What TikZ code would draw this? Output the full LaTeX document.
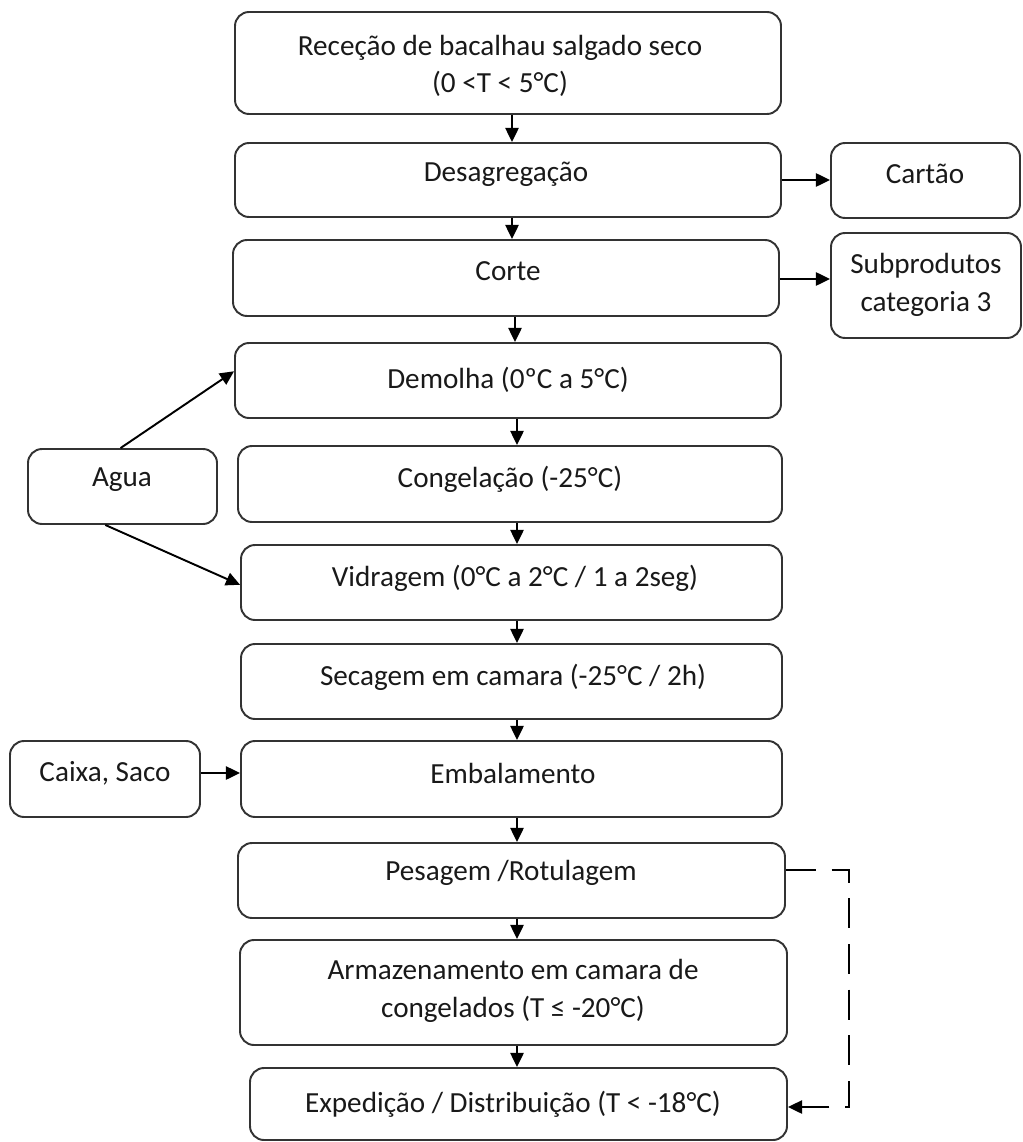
\documentclass[tikz,border=0pt]{standalone}
\usepackage{fontspec}
\setmainfont{Carlito}
\usetikzlibrary{fit,calc,arrows.meta}
\begin{document}
\begin{tikzpicture}[x=0.02cm,y=-0.02cm,
  box/.style={draw=black!80, line width=1.1pt, rounded corners=8pt, inner sep=0pt},
  txt/.style={font=\fontsize{16.6}{21.5}\selectfont, text=black!90, align=center, inner sep=0pt},
  arr/.style={draw=black, line width=1.1pt, -{Triangle[length=8pt,width=7.5pt]}},
  dsh/.style={dash pattern=on 17pt off 9pt}]
\useasboundingbox (0,0) rectangle (1023,1142);
% boxes
\node[box, fit={(235,12) (781,114)}] (r) {};
\node[box, fit={(235,143) (781,217)}] (d) {};
\node[box, fit={(831,143) (1020,218)}] (c) {};
\node[box, fit={(233,240) (779,316)}] (co) {};
\node[box, fit={(831,233) (1021,338)}] (s) {};
\node[box, fit={(235,343) (781,418)}] (dm) {};
\node[box, fit={(28,449) (217,524)}] (ag) {};
\node[box, fit={(238,446) (782,522)}] (cg) {};
\node[box, fit={(241,545) (782,620)}] (v) {};
\node[box, fit={(241,644) (782,719)}] (sc) {};
\node[box, fit={(10,741) (200,817)}] (cx) {};
\node[box, fit={(241,741) (782,817)}] (em) {};
\node[box, fit={(238,843) (785,918)}] (pe) {};
\node[box, fit={(240,940) (787,1045)}] (ar) {};
\node[box, fit={(250,1068) (787,1140)}] (ex) {};
% texts
\node[txt] (rt) at (500,66) {Receção de bacalhau salgado seco\\(0 <T < 5°C)};
\node[txt] (dt) at (506,174) {Desagregação};
\node[txt] (ct) at (925,174) {Cartão};
\node[txt] (cot) at (508,271) {Corte};
\node[txt] (st) at (926,285) {Subprodutos\\categoria 3};
\node[txt] (dmt) at (508,380) {Demolha (0ºC a 5°C)};
\node[txt] (agt) at (122,480) {Agua};
\node[txt] (cgt) at (510,479) {Congelação (-25°C)};
\node[txt] (vt) at (515,578) {Vidragem (0°C a 2°C / 1 a 2seg)};
\node[txt] (sct) at (513,677) {Secagem em camara (-25°C / 2h)};
\node[txt] (cxt) at (105,773) {Caixa, Saco};
\node[txt] (emt) at (513,773) {Embalamento};
\node[txt] (pet) at (511,873) {Pesagem /Rotulagem};
\node[txt] (art) at (513,991) {Armazenamento em camara de\\congelados (T ≤ -20°C)};
\node[txt] (ext) at (513,1104) {Expedição / Distribuição (T < -18°C)};
% vertical arrows
\coordinate (ax1) at (512,0);
\coordinate (ax2) at (515,0);
\coordinate (ax3) at (517,0);
\draw[arr] (ax1 |- r.south) -- (ax1 |- d.north);
\draw[arr] (ax1 |- d.south) -- (ax1 |- co.north);
\draw[arr] (ax2 |- co.south) -- (ax2 |- dm.north);
\draw[arr] (ax3 |- dm.south) -- (ax3 |- cg.north);
\draw[arr] (ax3 |- cg.south) -- (ax3 |- v.north);
\draw[arr] (ax3 |- v.south) -- (ax3 |- sc.north);
\draw[arr] (ax3 |- sc.south) -- (ax3 |- em.north);
\draw[arr] (ax3 |- em.south) -- (ax3 |- pe.north);
\draw[arr] (ax3 |- pe.south) -- (ax3 |- ar.north);
\draw[arr] (ax3 |- ar.south) -- (ax3 |- ex.north);
% side arrows
\draw[arr] (d.east) -- (d.east -| c.west);
\coordinate (hs) at (0,279);
\draw[arr] (co.east |- hs) -- (s.west |- hs);
\draw[arr] ($(ag.north west)!0.49!(ag.north east)$) -- ($(dm.north west)!0.38!(dm.south west)$);
\draw[arr] ($(ag.south west)!0.41!(ag.south east)$) -- ($(v.north west)!0.53!(v.south west)$);
\coordinate (hc) at (0,773);
\draw[arr] (cx.east |- hc) -- (em.west |- hc);
% dashed return
\coordinate (dj1) at (849,870);
\coordinate (dj2) at (849,1107);
\draw[arr, dsh] (pe.east |- dj1) -- (dj1) -- (dj2) -- (ex.east |- dj2);
\end{tikzpicture}
\end{document}
